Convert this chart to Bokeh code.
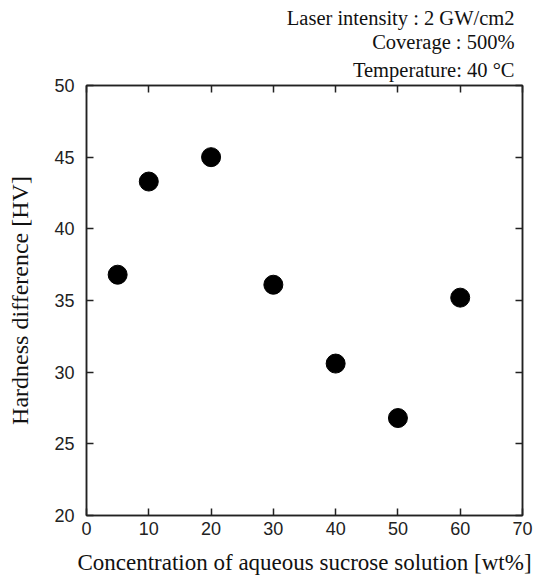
from bokeh.plotting import figure
from bokeh.models import Range1d, LinearAxis, Title, FixedTicker
from bokeh.embed import file_html
from bokeh.resources import INLINE

# Data
concentration = [5, 10, 20, 30, 40, 50, 60]
hardness_diff = [36.8, 43.3, 45.0, 36.1, 30.6, 26.8, 35.2]
x_ticks = [0, 10, 20, 30, 40, 50, 60, 70]
y_ticks = [20, 25, 30, 35, 40, 45, 50]
notes = ["Laser intensity : 2 GW/cm2", "Coverage : 500%", "Temperature: 40 \u00b0C"]

SERIF = "Liberation Serif"
SANS = "Liberation Sans"

p = figure(
    frame_width=436, frame_height=430,
    x_range=Range1d(0, 70), y_range=Range1d(20, 50),
    output_backend="svg", toolbar_location=None,
    min_border_left=86, min_border_top=85, min_border_right=19, min_border_bottom=66,
    x_axis_location="below", y_axis_location="left",
)
p.grid.visible = False
p.outline_line_color = "#222222"
p.outline_line_width = 1.5
p.background_fill_color = "white"
p.border_fill_color = "white"

def style_axis(ax, show_labels=True):
    ax.major_tick_in = 7
    ax.major_tick_out = 0
    ax.minor_tick_line_color = None
    ax.axis_line_color = "#222222"
    ax.axis_line_width = 1.5
    ax.major_tick_line_color = "#222222"
    ax.major_tick_line_width = 1.5
    ax.major_label_text_font = SANS
    ax.major_label_text_font_size = "18px"
    ax.major_label_text_color = "#222222"
    if not show_labels:
        ax.major_label_text_font_size = "0px"
        ax.major_label_text_color = None
        ax.major_label_standoff = 0
        ax.axis_label_standoff = 0

xa = p.xaxis[0]
xa.ticker = FixedTicker(ticks=x_ticks)
style_axis(xa)
xa.major_label_standoff = 6
xa.axis_label = "Concentration of aqueous sucrose solution [wt%]"
xa.axis_label_text_font = SERIF
xa.axis_label_text_font_style = "normal"
xa.axis_label_text_font_size = "23px"
xa.axis_label_text_color = "#111111"
xa.axis_label_standoff = 12

ya = p.yaxis[0]
ya.ticker = FixedTicker(ticks=y_ticks)
style_axis(ya)
ya.major_label_standoff = 12
ya.axis_label = "Hardness difference [HV]"
ya.axis_label_text_font = SERIF
ya.axis_label_text_font_style = "normal"
ya.axis_label_text_font_size = "24px"
ya.axis_label_text_color = "#111111"
ya.axis_label_standoff = 18

top = LinearAxis(ticker=FixedTicker(ticks=x_ticks))
style_axis(top, show_labels=False)
right = LinearAxis(ticker=FixedTicker(ticks=y_ticks))
style_axis(right, show_labels=False)
p.add_layout(right, "right")

p.scatter(concentration, hardness_diff, size=19, marker="circle",
          fill_color="black", line_color="black")

standoffs = [0, 0, 9]
titles = [Title(text=t, align="right", offset=8, text_font=SERIF,
                text_font_size="20.5px", text_font_style="normal",
                text_color="#111111", standoff=s)
          for t, s in zip(notes, standoffs)]
p.above = [top] + titles[::-1]

open("out.html", "w").write(file_html(p, INLINE))
